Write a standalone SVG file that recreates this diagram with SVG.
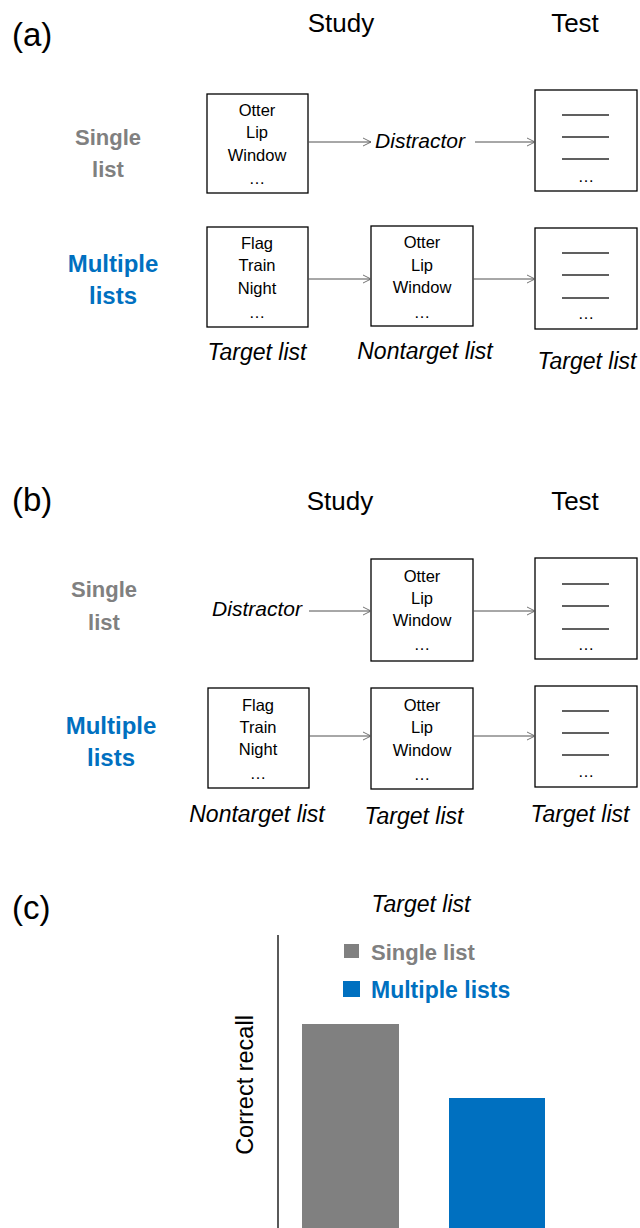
<svg xmlns="http://www.w3.org/2000/svg" width="640" height="1228" viewBox="0 0 640 1228">
<defs>
<marker id="arr" markerWidth="10" markerHeight="10" refX="9" refY="5" orient="auto" markerUnits="userSpaceOnUse">
<path d="M1,1 L9,5 L1,9" fill="none" stroke="#505050" stroke-width="0.8"/>
</marker>
<style>
text{font-family:"Liberation Sans",Arial,sans-serif;fill:#000}
.panel{font-size:33px}
.head{font-size:26px;text-anchor:middle}
.word{font-size:16.5px;text-anchor:middle}
.gray{font-size:22px;font-weight:bold;fill:#808080;text-anchor:middle}
.blue{font-size:24px;font-weight:bold;fill:#0070C0;text-anchor:middle}
.it{font-size:23px;font-style:italic;text-anchor:middle}
.dis{font-size:21px;font-style:italic;text-anchor:middle}
.box{fill:#fff;stroke:#000;stroke-width:1.3}
.blank{stroke:#606060;stroke-width:2}
.conn{stroke:#505050;stroke-width:1;fill:none;marker-end:url(#arr)}
</style>
</defs>
<rect width="640" height="1228" fill="#fff"/>

<!-- Panel (a) -->
<g id="a-labels">
<text class="panel" x="12" y="46">(a)</text>
<text class="head" x="341" y="32">Study</text>
<text class="head" x="575" y="32">Test</text>
<text class="gray" x="108" y="145">Single</text>
<text class="gray" x="108" y="177">list</text>
<text class="blue" x="113" y="272">Multiple</text>
<text class="blue" x="113" y="304">lists</text>
<text class="dis" x="420" y="148">Distractor</text>
<text class="it" x="257" y="360">Target list</text>
<text class="it" x="425" y="359">Nontarget list</text>
<text class="it" x="587" y="369">Target list</text>
</g>
<g id="a-study-single">
<rect class="box" x="207" y="94" width="101" height="99"/>
<text class="word" x="257" y="116">Otter</text>
<text class="word" x="257" y="138">Lip</text>
<text class="word" x="257" y="161">Window</text>
<text class="word" x="257" y="184">…</text>
</g>
<g id="a-test-single">
<rect class="box" x="535" y="90" width="102" height="101"/>
<line class="blank" x1="562" y1="115" x2="609" y2="115"/>
<line class="blank" x1="562" y1="137" x2="609" y2="137"/>
<line class="blank" x1="562" y1="159" x2="609" y2="159"/>
<text class="word" x="586" y="182">…</text>
</g>
<g id="a-study-multi-1">
<rect class="box" x="207" y="227" width="101" height="100"/>
<text class="word" x="257" y="249">Flag</text>
<text class="word" x="257" y="271">Train</text>
<text class="word" x="257" y="294">Night</text>
<text class="word" x="257" y="318">…</text>
</g>
<g id="a-study-multi-2">
<rect class="box" x="371" y="226" width="102" height="100"/>
<text class="word" x="422" y="248">Otter</text>
<text class="word" x="422" y="271">Lip</text>
<text class="word" x="422" y="293">Window</text>
<text class="word" x="422" y="318">…</text>
</g>
<g id="a-test-multi">
<rect class="box" x="535" y="228" width="102" height="101"/>
<line class="blank" x1="562" y1="253" x2="609" y2="253"/>
<line class="blank" x1="562" y1="275" x2="609" y2="275"/>
<line class="blank" x1="562" y1="298" x2="609" y2="298"/>
<text class="word" x="586" y="319">…</text>
</g>

<!-- Panel (b) -->
<g id="b-labels">
<text class="panel" x="12" y="511">(b)</text>
<text class="head" x="340" y="510">Study</text>
<text class="head" x="575" y="510">Test</text>
<text class="gray" x="104" y="597">Single</text>
<text class="gray" x="104" y="630">list</text>
<text class="blue" x="111" y="734">Multiple</text>
<text class="blue" x="111" y="766">lists</text>
<text class="dis" x="257" y="616">Distractor</text>
<text class="it" x="257" y="822">Nontarget list</text>
<text class="it" x="414" y="824">Target list</text>
<text class="it" x="580" y="822">Target list</text>
</g>
<g id="b-study-single">
<rect class="box" x="371" y="559" width="102" height="102"/>
<text class="word" x="422" y="582">Otter</text>
<text class="word" x="422" y="604">Lip</text>
<text class="word" x="422" y="626">Window</text>
<text class="word" x="422" y="650">…</text>
</g>
<g id="b-test-single">
<rect class="box" x="535" y="558" width="102" height="101"/>
<line class="blank" x1="562" y1="584" x2="609" y2="584"/>
<line class="blank" x1="562" y1="606" x2="609" y2="606"/>
<line class="blank" x1="562" y1="629" x2="609" y2="629"/>
<text class="word" x="586" y="650">…</text>
</g>
<g id="b-study-multi-1">
<rect class="box" x="208" y="688" width="101" height="100"/>
<text class="word" x="258" y="711">Flag</text>
<text class="word" x="258" y="733">Train</text>
<text class="word" x="258" y="755">Night</text>
<text class="word" x="258" y="779">…</text>
</g>
<g id="b-study-multi-2">
<rect class="box" x="371" y="688" width="102" height="101"/>
<text class="word" x="422" y="711">Otter</text>
<text class="word" x="422" y="733">Lip</text>
<text class="word" x="422" y="756">Window</text>
<text class="word" x="422" y="780">…</text>
</g>
<g id="b-test-multi">
<rect class="box" x="535" y="686" width="102" height="101"/>
<line class="blank" x1="562" y1="711" x2="609" y2="711"/>
<line class="blank" x1="562" y1="733" x2="609" y2="733"/>
<line class="blank" x1="562" y1="755" x2="609" y2="755"/>
<text class="word" x="586" y="777">…</text>
</g>

<!-- Connectors -->
<g id="connectors">
<line class="conn" x1="308" y1="142" x2="371" y2="142"/>
<line class="conn" x1="475" y1="142" x2="535" y2="142"/>
<line class="conn" x1="308" y1="279" x2="371" y2="279"/>
<line class="conn" x1="473" y1="279" x2="535" y2="279"/>
<line class="conn" x1="309" y1="611" x2="371" y2="611"/>
<line class="conn" x1="473" y1="611" x2="535" y2="611"/>
<line class="conn" x1="309" y1="736" x2="371" y2="736"/>
<line class="conn" x1="473" y1="736" x2="535" y2="736"/>
</g>

<!-- Panel (c) -->
<g id="chart">
<text class="panel" x="12" y="919">(c)</text>
<text class="it" x="421" y="912">Target list</text>
<line x1="278" y1="935" x2="278" y2="1228" stroke="#000" stroke-width="1.3"/>
<rect x="344" y="944" width="15" height="14" fill="#808080"/>
<text x="371" y="960" style="font-size:22px;font-weight:bold;fill:#808080">Single list</text>
<rect x="343" y="981" width="17" height="16" fill="#0070C0"/>
<text x="371" y="998" style="font-size:23px;font-weight:bold;fill:#0070C0">Multiple lists</text>
<rect x="302" y="1024" width="97" height="204" fill="#808080"/>
<rect x="449" y="1098" width="96" height="130" fill="#0070C0"/>
<text x="0" y="0" transform="translate(253,1085) rotate(-90)" style="font-size:23.5px;text-anchor:middle">Correct recall</text>
</g>
</svg>
